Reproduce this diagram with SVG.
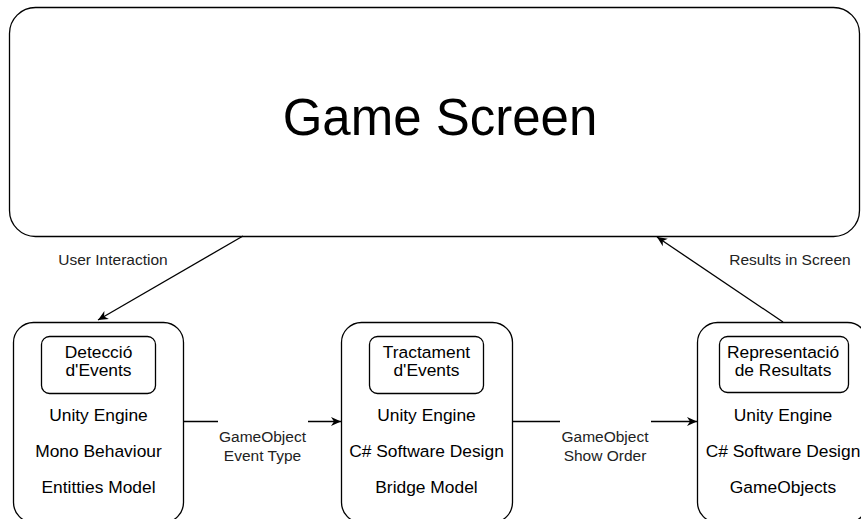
<svg xmlns="http://www.w3.org/2000/svg" width="861" height="519" viewBox="0 0 861 519">
<style>
.box{fill:#fff;stroke:#000;stroke-width:1.3}
.t{font-family:"Liberation Sans",Arial,sans-serif;fill:#000;text-anchor:middle}
.n{font-size:17.4px}
.e{font-size:15.5px;fill:#222}
.c{stroke:#000;stroke-width:1.3;fill:none}
</style>
<defs>
<marker id="ah" markerWidth="12" markerHeight="12" refX="10" refY="5.5" orient="auto" markerUnits="userSpaceOnUse">
<path d="M0,1 L10,5.5 L0,10 L3,5.5 Z" fill="#000"/>
</marker>
</defs>
<g id="game-screen">
<rect class="box" x="9.5" y="7.5" width="850" height="229" rx="26"/>
<text class="t" x="440" y="135" font-size="51">Game Screen</text>
</g>
<g id="deteccio">
<rect class="box" x="13.5" y="322.5" width="170" height="200" rx="20"/>
<rect class="box" x="41.5" y="336.5" width="114" height="57" rx="8"/>
<text class="t n" x="98.5" y="357.5">Detecció</text>
<text class="t n" x="98.5" y="376">d'Events</text>
<text class="t n" x="98.5" y="420.5">Unity Engine</text>
<text class="t n" x="98.5" y="456.5">Mono Behaviour</text>
<text class="t n" x="98.5" y="493">Entitties Model</text>
</g>
<g id="tractament">
<rect class="box" x="341.5" y="322.5" width="171" height="200" rx="20"/>
<rect class="box" x="369.5" y="336.5" width="114" height="57" rx="8"/>
<text class="t n" x="426.5" y="357.5">Tractament</text>
<text class="t n" x="426.5" y="376">d'Events</text>
<text class="t n" x="426.5" y="420.5">Unity Engine</text>
<text class="t n" x="426.5" y="456.5">C# Software Design</text>
<text class="t n" x="426.5" y="493">Bridge Model</text>
</g>
<g id="representacio">
<rect class="box" x="697.5" y="322.5" width="170" height="200" rx="20"/>
<rect class="box" x="719.5" y="336.5" width="129" height="56" rx="8"/>
<text class="t n" x="783" y="357.5">Representació</text>
<text class="t n" x="783" y="376">de Resultats</text>
<text class="t n" x="783" y="420.5">Unity Engine</text>
<text class="t n" x="783" y="456.5">C# Software Design</text>
<text class="t n" x="783" y="493">GameObjects</text>
</g>
<g id="connectors">
<line class="c" x1="243" y1="236" x2="98" y2="320" marker-end="url(#ah)"/>
<text class="t e" x="113" y="265">User Interaction</text>
<line class="c" x1="783" y1="322" x2="657" y2="237" marker-end="url(#ah)"/>
<text class="t e" x="790" y="265">Results in Screen</text>
<path class="c" d="M183,421.5 H218 M308,421.5 H341" marker-end="url(#ah)"/>
<text class="t e" x="262.5" y="441.5">GameObject</text>
<text class="t e" x="262.5" y="461">Event Type</text>
<path class="c" d="M513,421.5 H560 M651,421.5 H697" marker-end="url(#ah)"/>
<text class="t e" x="605" y="441.5">GameObject</text>
<text class="t e" x="605" y="461">Show Order</text>
</g>
</svg>
